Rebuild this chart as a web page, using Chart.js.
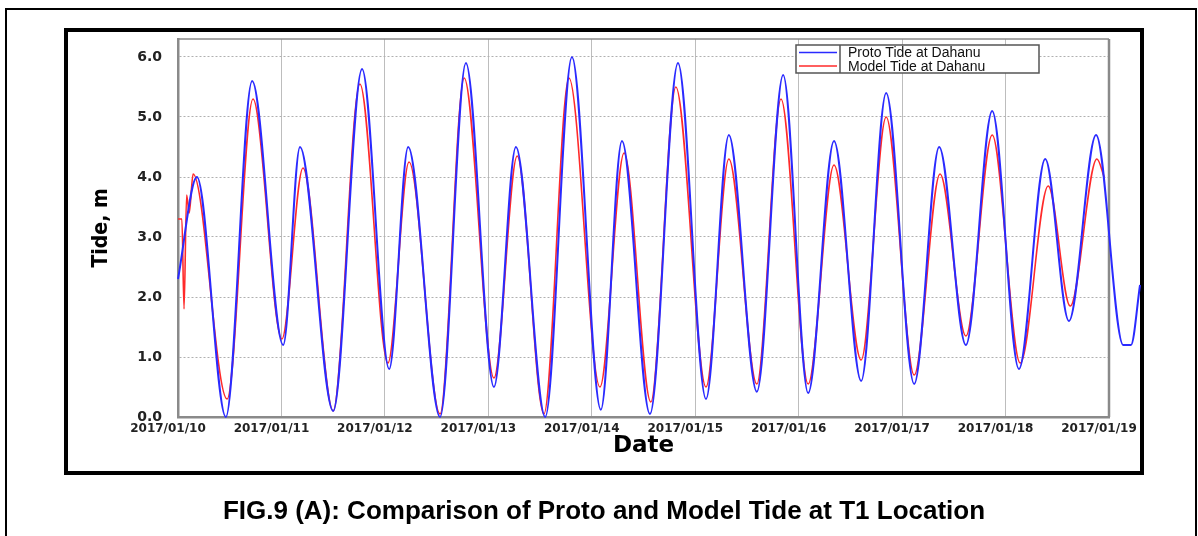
<!DOCTYPE html>
<html>
<head>
<meta charset="utf-8">
<script src="https://cdn.jsdelivr.net/npm/chart.js@4.4.1/dist/chart.umd.min.js"></script>
<style>
  html, body { margin: 0; padding: 0; background: #ffffff; }
  #wrap { position: relative; width: 1198px; height: 536px; overflow: hidden; background: #fff; }
  #c { position: absolute; left: 0; top: 0; }
  #caption { position: absolute; left: 5px; width: 1198px; top: 495px; text-align: center;
    font: bold 26px "Liberation Sans", Arial, sans-serif; line-height: 30px; color: #000; }
</style>
</head>
<body>
<div id="wrap">
  <canvas id="c" width="1198" height="536"></canvas>
  <div id="caption">FIG.9 (A): Comparison of Proto and Model Tide at T1 Location</div>
</div>
<script>
// Date tick labels (one per day, x in hours from 2017/01/10 00:00)
const dateLabels = ['2017/01/10','2017/01/11','2017/01/12','2017/01/13','2017/01/14',
                    '2017/01/15','2017/01/16','2017/01/17','2017/01/18','2017/01/19'];
const yTickValues = [0, 1, 2, 3, 4, 5, 6];

// Proto tide (blue): hours, tide (m)
const protoHours = [0, 4.4, 11.1, 17.2, 24.4, 28.3, 36.0, 42.7, 49.0, 53.4, 60.8, 66.8, 73.3, 78.4,
  85.2, 91.4, 98.1, 103.0, 109.5, 116.0, 122.5, 127.8, 134.3, 140.4, 146.2, 152.2, 158.5, 164.3,
  170.8, 176.6, 182.8, 188.9, 195.1, 201.2, 206.7, 213.0, 219.3, 221.1, 223.2];
const protoTide = [2.3, 4.0, 0.0, 5.6, 1.2, 4.5, 0.1, 5.8, 0.8, 4.5, 0.0, 5.9, 0.5, 4.5,
  0.0, 6.0, 0.12, 4.6, 0.05, 5.9, 0.3, 4.7, 0.42, 5.7, 0.4, 4.6, 0.6, 5.4,
  0.55, 4.5, 1.2, 5.1, 0.8, 4.3, 1.6, 4.7, 1.2, 1.2, 2.2];

// Model tide (red): hours, tide (m)
const modelHours = [0, 0.9, 1.4, 2.0, 2.6, 3.5, 11.4, 17.4, 24.1, 29.0, 36.0, 42.2, 48.7, 53.6,
  60.8, 66.4, 73.3, 78.7, 84.9, 90.7, 97.9, 103.5, 109.7, 115.5, 122.5, 127.8, 134.3, 139.9,
  146.2, 152.2, 158.5, 164.3, 170.8, 176.8, 182.8, 188.9, 195.4, 201.9, 207.0, 213.2, 214.9];
const modelTide = [3.3, 3.3, 1.8, 3.7, 3.4, 4.05, 0.3, 5.3, 1.3, 4.15, 0.1, 5.55, 0.9, 4.25,
  0.05, 5.65, 0.65, 4.35, 0.05, 5.65, 0.5, 4.4, 0.25, 5.5, 0.5, 4.3, 0.55, 5.3,
  0.55, 4.2, 0.95, 5.0, 0.7, 4.05, 1.35, 4.7, 0.9, 3.85, 1.85, 4.3, 4.0];

const seriesNames = ['Proto Tide at Dahanu', 'Model Tide at Dahanu'];
const xRange = [0, 216];

const toXY = (xs, ys) => xs.map((x, i) => ({ x: x, y: ys[i] }));

const framePlugin = {
  id: 'frames',
  beforeDraw(chart) {
    const ctx = chart.ctx;
    ctx.save();
    ctx.fillStyle = '#fff';
    ctx.fillRect(0, 0, chart.width, chart.height);
    ctx.strokeStyle = '#000';
    ctx.lineWidth = 2;
    ctx.strokeRect(6, 9, 1190, 700);
    ctx.lineWidth = 4;
    ctx.strokeRect(66, 30, 1076, 443);
    ctx.restore();
  },
  beforeDatasetsDraw(chart) {
    const a = chart.chartArea, ctx = chart.ctx;
    ctx.save();
    ctx.strokeStyle = '#8a8a8a';
    ctx.lineWidth = 1.5;
    ctx.beginPath();
    ctx.moveTo(a.left, a.top); ctx.lineTo(a.right, a.top);
    ctx.stroke();
    ctx.lineWidth = 2.5;
    ctx.beginPath();
    ctx.moveTo(a.right, a.top); ctx.lineTo(a.right, a.bottom);
    ctx.stroke();
    ctx.restore();
  },
  afterDraw(chart) {
    // legend box inside the plot area
    const ctx = chart.ctx;
    const x0 = 796, y0 = 45, w = 243, h = 28, div = 840;
    ctx.save();
    ctx.fillStyle = '#fff';
    ctx.fillRect(x0, y0, w, h);
    ctx.strokeStyle = '#555';
    ctx.lineWidth = 1.5;
    ctx.strokeRect(x0, y0, w, h);
    ctx.beginPath();
    ctx.moveTo(div, y0); ctx.lineTo(div, y0 + h);
    ctx.stroke();
    ctx.font = '14px "Liberation Sans", Arial, sans-serif';
    ctx.textBaseline = 'middle';
    ctx.fillStyle = '#111';
    chart.data.datasets.forEach((ds, i) => {
      const yy = y0 + 7.5 + i * 13.5;
      ctx.strokeStyle = ds.borderColor;
      ctx.lineWidth = 1.5;
      ctx.beginPath();
      ctx.moveTo(x0 + 3, yy); ctx.lineTo(div - 3, yy);
      ctx.stroke();
      ctx.fillText(ds.label, div + 8, yy + 1);
    });
    ctx.restore();
  }
};

new Chart(document.getElementById('c'), {
  type: 'line',
  data: {
    datasets: [
      { label: seriesNames[0], data: toXY(protoHours, protoTide), borderColor: '#2a2aff',
        borderWidth: 2, pointRadius: 0, cubicInterpolationMode: 'monotone', clip: false },
      { label: seriesNames[1], data: toXY(modelHours, modelTide), borderColor: '#ff2a2a',
        borderWidth: 1.6, pointRadius: 0, cubicInterpolationMode: 'monotone' }
    ]
  },
  options: {
    responsive: false,
    animation: false,
    devicePixelRatio: 1,
    layout: { padding: { left: 0, top: 39, right: 89, bottom: 0 } },
    plugins: { legend: { display: false }, tooltip: { enabled: false } },
    scales: {
      x: {
        type: 'linear',
        bounds: 'data',
        afterDataLimits: s => { s.min = xRange[0]; s.max = xRange[1]; },
        afterFit: s => { s.height = 119; },
        afterBuildTicks: s => {
          s.min = xRange[0]; s.max = xRange[1];
          s.ticks = dateLabels.map((_, i) => ({ value: i * 24 }));
        },
        ticks: {
          callback: (v) => dateLabels[Math.round(v / 24)],
          color: '#222', padding: 5, labelOffset: -10, maxRotation: 0, autoSkip: false,
          font: { family: '"DejaVu Sans", Verdana, sans-serif', size: 12, weight: 'bold' }
        },
        grid: { color: '#bdbdbd', lineWidth: 1, drawTicks: false },
        border: { color: '#8a8a8a', width: 2.5 },
        title: {
          display: true, text: 'Date', color: '#000',
          font: { family: '"DejaVu Sans", Verdana, sans-serif', size: 23, weight: 'bold' },
          padding: { top: 0, bottom: 76 }
        }
      },
      y: {
        min: 0, max: 6.3,
        afterFit: s => { s.width = 178; },
        afterBuildTicks: s => { s.ticks = yTickValues.map(v => ({ value: v })); },
        ticks: {
          callback: v => v.toFixed(1),
          color: '#222', padding: 16,
          font: { family: '"DejaVu Sans", Verdana, sans-serif', size: 14, weight: 'bold' }
        },
        grid: { color: '#b0b0b0', lineWidth: 1, drawTicks: false },
        border: { color: '#8a8a8a', width: 2.5, dash: [2, 2] },
        title: {
          display: true, text: 'Tide, m', color: '#000',
          font: { family: '"Liberation Sans Narrow", "DejaVu Sans Condensed", "Liberation Sans", sans-serif', size: 21, weight: 'bold' },
          padding: { top: 89, bottom: 0 }
        }
      }
    }
  },
  plugins: [framePlugin]
});
</script>
</body>
</html>
